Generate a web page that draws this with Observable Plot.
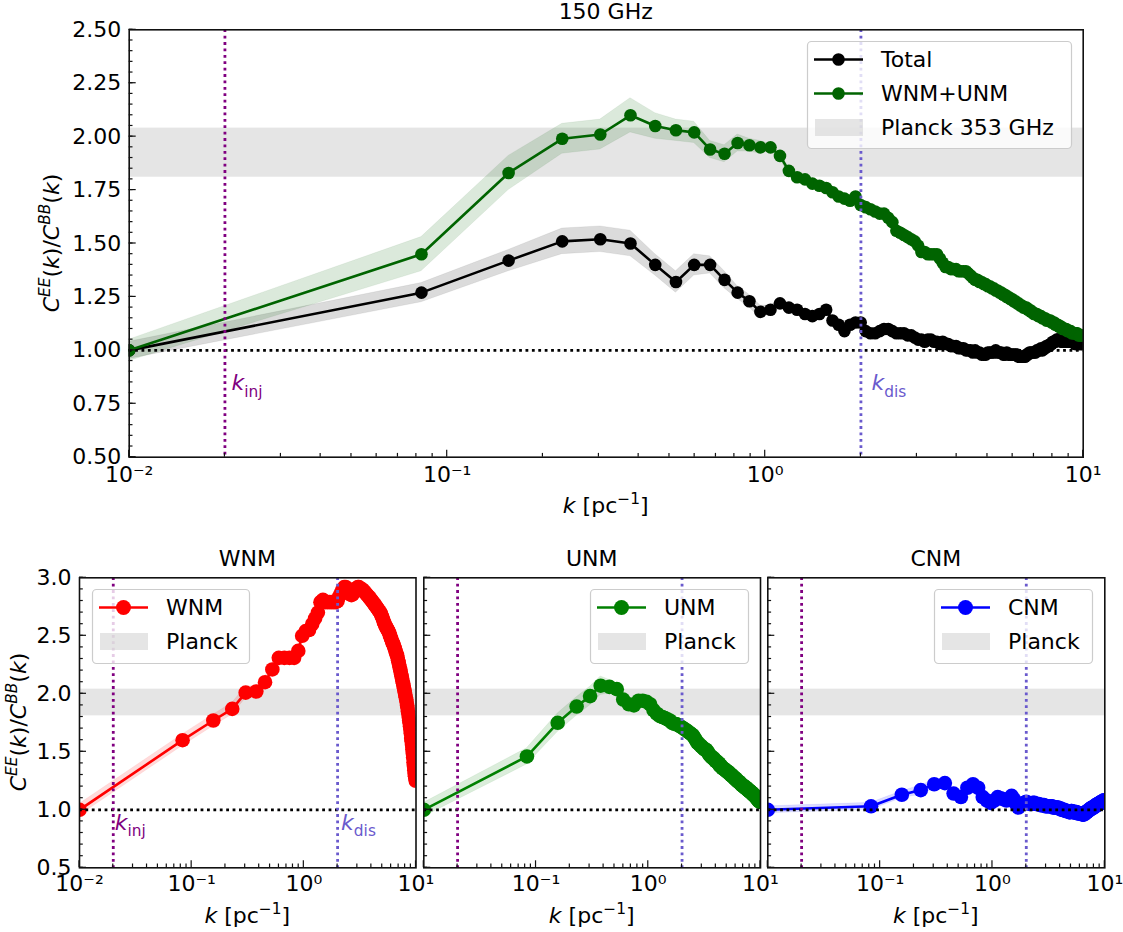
<!DOCTYPE html>
<html><head><meta charset="utf-8">
<script src="https://cdn.jsdelivr.net/npm/d3@7"></script>
<script src="https://cdn.jsdelivr.net/npm/@observablehq/plot@0.6"></script>
<style>
body{margin:0;background:#fff;}
#fig{position:relative;width:1123px;height:932px;overflow:hidden;background:#fff;font-family:"DejaVu Sans",sans-serif;}
#fig svg{position:absolute;}
</style></head>
<body><div id="fig"></div>
<script>
// ---------------- data ----------------
const k = [0.01,
0.083,0.156,0.230,0.303,0.377,0.451,0.524,0.598,0.671,0.745,
0.819,0.892,0.966,1.039,1.113,1.187,1.260,1.334,1.407,1.481,
1.555,1.628,1.702,1.775,1.849,1.923,1.996,2.070,2.143,2.217,
2.291,2.364,2.438,2.511,2.585,2.659,2.732,2.806,2.879,2.953,
3.027,3.100,3.174,3.247,3.321,3.395,3.468,3.542,3.615,3.689,
3.763,3.836,3.910,3.983,4.057,4.131,4.204,4.278,4.351,4.425,
4.499,4.572,4.646,4.719,4.793,4.867,4.940,5.014,5.087,5.161,
5.235,5.308,5.382,5.455,5.529,5.603,5.676,5.750,5.823,5.897,
5.971,6.044,6.118,6.191,6.265,6.339,6.412,6.486,6.559,6.633,
6.707,6.780,6.854,6.927,7.001,7.075,7.148,7.222,7.295,7.369,
7.443,7.516,7.590,7.663,7.737,7.811,7.884,7.958,8.031,8.105,
8.179,8.252,8.326,8.399,8.473,8.547,8.620,8.694,8.767,8.841,
8.915,8.988,9.062,9.135,9.209,9.283,9.356,9.430,9.503,9.577,
9.651,9.724,9.798,9.871,9.945];

const total = [1.00,
1.27,1.42,1.51,1.52,1.50,1.40,1.32,1.40,1.40,1.33,
1.27,1.23,1.18,1.19,1.22,1.20,1.19,1.17,1.16,1.17,
1.19,1.14,1.12,1.09,1.12,1.13,1.13,1.09,1.08,1.08,
1.09,1.10,1.10,1.09,1.08,1.08,1.08,1.07,1.07,1.06,
1.05,1.05,1.04,1.05,1.05,1.04,1.04,1.03,1.04,1.03,
1.03,1.02,1.02,1.02,1.01,1.01,1.01,1.00,1.00,1.00,
0.99,1.00,0.99,0.99,0.98,0.98,0.98,0.99,0.99,0.99,
0.99,1.00,0.99,0.99,0.99,0.98,0.98,0.99,0.98,0.98,
0.98,0.98,0.98,0.98,0.97,0.97,0.97,0.97,0.97,0.98,
0.98,0.99,0.99,0.99,0.99,0.99,1.00,1.00,1.00,1.01,
1.00,1.01,1.01,1.02,1.02,1.02,1.03,1.03,1.04,1.04,
1.04,1.05,1.05,1.05,1.05,1.04,1.04,1.04,1.05,1.05,
1.04,1.04,1.04,1.04,1.04,1.04,1.04,1.03,1.03,1.03,
1.03,1.03,1.03,1.03,1.03];

const wnmUnm = [1.00,
1.45,1.83,1.99,2.01,2.10,2.05,2.03,2.02,1.94,1.92,
1.97,1.96,1.95,1.95,1.91,1.84,1.81,1.80,1.78,1.77,
1.76,1.74,1.72,1.71,1.70,1.72,1.68,1.67,1.66,1.65,
1.64,1.64,1.62,1.60,1.56,1.55,1.54,1.53,1.52,1.51,
1.49,1.46,1.46,1.45,1.45,1.45,1.45,1.43,1.41,1.39,
1.39,1.38,1.38,1.38,1.37,1.37,1.37,1.37,1.36,1.35,
1.34,1.33,1.33,1.32,1.32,1.31,1.31,1.30,1.30,1.29,
1.29,1.28,1.28,1.27,1.27,1.26,1.26,1.25,1.25,1.24,
1.24,1.23,1.23,1.22,1.22,1.21,1.21,1.20,1.20,1.20,
1.19,1.19,1.18,1.18,1.17,1.17,1.17,1.16,1.16,1.16,
1.15,1.15,1.15,1.14,1.14,1.14,1.14,1.13,1.13,1.13,
1.12,1.12,1.12,1.11,1.11,1.11,1.10,1.10,1.10,1.10,
1.09,1.09,1.09,1.09,1.08,1.08,1.08,1.08,1.08,1.08,
1.07,1.07,1.07,1.07,1.07];

const wnm = [1.00,
1.60,1.77,1.87,2.01,2.02,2.10,2.21,2.31,2.31,2.31,
2.31,2.37,2.50,2.54,2.55,2.60,2.65,2.70,2.79,2.81,
2.79,2.79,2.79,2.79,2.79,2.79,2.80,2.84,2.87,2.90,
2.92,2.92,2.91,2.88,2.86,2.85,2.86,2.88,2.90,2.91,
2.92,2.92,2.91,2.90,2.90,2.89,2.88,2.87,2.86,2.85,
2.84,2.83,2.82,2.81,2.80,2.79,2.78,2.77,2.76,2.75,
2.74,2.73,2.72,2.71,2.70,2.69,2.67,2.66,2.64,2.62,
2.61,2.59,2.58,2.57,2.56,2.55,2.54,2.53,2.51,2.50,
2.48,2.47,2.45,2.44,2.43,2.42,2.40,2.39,2.37,2.36,
2.34,2.33,2.31,2.29,2.27,2.25,2.23,2.21,2.19,2.17,
2.15,2.13,2.11,2.09,2.07,2.05,2.03,2.01,1.99,1.97,
1.95,1.93,1.90,1.88,1.85,1.83,1.80,1.77,1.75,1.72,
1.69,1.66,1.62,1.59,1.56,1.52,1.49,1.45,1.41,1.38,
1.34,1.31,1.29,1.27,1.25];

const unm = [1.00,
1.46,1.75,1.89,1.98,2.07,2.06,2.04,1.95,1.91,1.90,
1.94,1.94,1.93,1.91,1.86,1.83,1.81,1.80,1.79,1.78,
1.77,1.75,1.74,1.74,1.73,1.72,1.71,1.70,1.69,1.68,
1.67,1.66,1.65,1.64,1.62,1.60,1.58,1.57,1.56,1.55,
1.54,1.53,1.52,1.52,1.51,1.50,1.48,1.47,1.46,1.45,
1.45,1.44,1.43,1.42,1.42,1.41,1.40,1.40,1.38,1.38,
1.37,1.36,1.36,1.35,1.35,1.34,1.34,1.33,1.33,1.32,
1.32,1.31,1.31,1.30,1.30,1.29,1.29,1.28,1.28,1.27,
1.27,1.26,1.26,1.25,1.25,1.24,1.24,1.24,1.23,1.23,
1.22,1.22,1.21,1.21,1.21,1.20,1.20,1.20,1.19,1.19,
1.19,1.18,1.18,1.18,1.17,1.17,1.17,1.16,1.16,1.16,
1.15,1.15,1.15,1.14,1.14,1.14,1.13,1.13,1.13,1.12,
1.12,1.12,1.11,1.11,1.10,1.10,1.10,1.09,1.09,1.08,
1.08,1.08,1.07,1.07,1.07];

const cnm = [1.00,
1.03,1.13,1.17,1.22,1.23,1.14,1.11,1.19,1.22,1.19,
1.11,1.08,1.06,1.08,1.11,1.10,1.09,1.08,1.09,1.12,
1.09,1.05,1.02,1.04,1.05,1.06,1.07,1.06,1.05,1.05,
1.06,1.06,1.05,1.05,1.05,1.04,1.04,1.04,1.04,1.03,
1.03,1.03,1.03,1.03,1.03,1.03,1.02,1.02,1.02,1.02,
1.02,1.02,1.01,1.01,1.01,1.00,1.00,1.00,1.00,0.99,
0.99,0.99,0.99,0.99,0.98,0.98,0.98,0.99,0.99,0.98,
0.98,0.98,0.98,0.98,0.98,0.98,0.97,0.97,0.97,0.97,
0.97,0.97,0.97,0.97,0.96,0.96,0.96,0.96,0.96,0.97,
0.97,0.98,0.98,0.98,0.99,0.99,0.99,1.00,1.00,1.00,
1.01,1.01,1.01,1.01,1.02,1.02,1.02,1.02,1.03,1.03,
1.03,1.03,1.04,1.04,1.04,1.04,1.05,1.05,1.05,1.05,
1.05,1.06,1.06,1.06,1.06,1.06,1.07,1.07,1.07,1.07,
1.07,1.08,1.08,1.08,1.08];

// half-widths of the shaded uncertainty bands (first points; later points use the tail value)
const errTotal  = [0.04,0.045,0.05,0.06,0.06,0.06,0.05,0.05,0.05,0.04,0.04,0.03,0.03,0.03];
const errWnmUnm = [0.05,0.08,0.08,0.07,0.07,0.08,0.06,0.05,0.05,0.04,0.04,0.04,0.03,0.03];
const errWnm    = [0.05,0.05,0.05,0.05,0.05,0.05,0.05,0.05,0.05,0.04,0.04,0.04,0.04,0.04];
const errUnm    = [0.06,0.07,0.08,0.08,0.08,0.08,0.06,0.05,0.05,0.04,0.04,0.04,0.03,0.03];
const errCnm    = [0.03,0.03,0.03,0.04,0.04,0.04,0.03,0.03,0.03,0.03,0.02,0.02,0.02,0.02];
const errTail = {total: 0.02, wnmUnm: 0.015, wnm: 0.03, unm: 0.02, cnm: 0.015};

const planck = [1.81, 2.04];      // Planck 353 GHz EE/BB band
const kInj = 0.02, kDis = 2;      // injection & dissipation scales
const xDomain = [0.01, 10];
const xMajor = [0.01, 0.1, 1, 10];
const xMajorLabels = ["10⁻²", "10⁻¹", "10⁰", "10¹"];
const yTopMajor = [0.5, 0.75, 1.0, 1.25, 1.5, 1.75, 2.0, 2.25, 2.5];
const yBotMajor = [0.5, 1.0, 1.5, 2.0, 2.5, 3.0];

// ---------------- helpers ----------------
const FONT = "DejaVu Sans";
const DOTS = "2.8,3.6";
const xMinor = [];
for (const dec of [0.01, 0.1, 1]) for (let m = 2; m <= 9; m++) xMinor.push(+(dec * m).toPrecision(3));
const xLabel = new Map(xMajor.map((v, i) => [v, xMajorLabels[i]]));

function rows(vals, errs, tail) {
  return k.map((kk, i) => ({k: kk, v: vals[i], e: i < errs.length ? errs[i] : tail})).filter(d => d.v != null);
}

function rich(sel, parts, base) {
  let shift = 0;
  for (const p of parts) {
    const s = p.sup ? -0.42 * base : p.sub ? 0.28 * base : 0;
    const ts = sel.append("tspan").text(p.t).attr("dy", s - shift);
    shift = s;
    if (p.sup || p.sub) ts.attr("font-size", base * 0.7);
    if (p.it) ts.attr("font-style", "italic");
  }
  return sel;
}

function inTicks(yMajor, yMinor) {
  return (index, scales, values, dim) => {
    const {x, y} = scales;
    const L = dim.marginLeft, B = dim.height - dim.marginBottom;
    const g = d3.create("svg:g").attr("stroke", "#111").attr("stroke-width", 1.2);
    for (const v of xMajor) g.append("line").attr("x1", x(v)).attr("x2", x(v)).attr("y1", B).attr("y2", B - 7);
    for (const v of xMinor) g.append("line").attr("x1", x(v)).attr("x2", x(v)).attr("y1", B).attr("y2", B - 3.8);
    for (const v of yMajor) g.append("line").attr("y1", y(v)).attr("y2", y(v)).attr("x1", L).attr("x2", L + 7);
    for (const v of yMinor) g.append("line").attr("y1", y(v)).attr("y2", y(v)).attr("x1", L).attr("x2", L + 3.8);
    return g.node();
  };
}

function kText(kx, yv, sub, color, dx, size) {
  return (index, {x, y}) => {
    const t = d3.create("svg:text").attr("x", x(kx) + dx).attr("y", y(yv))
      .attr("text-anchor", "start").attr("dominant-baseline", "auto")
      .attr("fill", color).attr("font-size", size).attr("font-family", FONT);
    rich(t, [{t: "k", it: 1}, {t: sub, sub: 1}], size);
    return t.node();
  };
}

function panel(o) {
  const marks = [
    Plot.rect([planck], {x1: () => xDomain[0], x2: () => xDomain[1], y1: d => d[0], y2: d => d[1], fill: "#d3d3d3", fillOpacity: 0.6})
  ];
  for (const s of o.series) {
    marks.push(Plot.areaY(s.data, {x: "k", y1: d => d.v - d.e, y2: d => d.v + d.e, fill: s.color, fillOpacity: 0.14, stroke: s.color, strokeOpacity: 0.06, clip: true}));
  }
  for (const s of o.series) {
    marks.push(Plot.line(s.data, {x: "k", y: "v", stroke: s.color, strokeWidth: 2.6, clip: true}));
    marks.push(Plot.dot(s.data, {x: "k", y: "v", r: o.r, fill: s.color, clip: true}));
  }
  marks.push(
    Plot.ruleY([1], {stroke: "black", strokeWidth: 2.8, strokeDasharray: DOTS}),
    Plot.ruleX([kInj], {stroke: "purple", strokeWidth: 2.8, strokeDasharray: DOTS}),
    Plot.ruleX([kDis], {stroke: "slateblue", strokeWidth: 2.8, strokeDasharray: DOTS}),
    Plot.axisX(o.xTicks, {tickSize: 0, tickPadding: o.xPad, tickFormat: d => xLabel.get(d), label: null}),
    inTicks(o.yMajor, o.yMinor),
    Plot.frame({stroke: "#111", strokeWidth: 1.6})
  );
  if (o.showY) marks.push(Plot.axisY(o.yMajor, {tickSize: 0, tickPadding: 8, tickFormat: d => d.toFixed(o.yDigits), label: null}));
  if (o.kLabels) marks.push(kText(kInj, o.kLabelY, "inj", "purple", o.kdx[0], 22), kText(kDis, o.kLabelY, "dis", "slateblue", o.kdx[1], 22));
  const svg = Plot.plot({
    width: o.w, height: o.h,
    marginLeft: o.ml, marginRight: o.mr, marginTop: o.mt, marginBottom: o.mb,
    style: {background: "transparent", overflow: "visible", fontFamily: FONT, fontSize: "22px", color: "black"},
    x: {type: "log", domain: xDomain},
    y: {domain: o.yDomain, ...(o.showY ? {} : {axis: null})},
    marks
  });
  svg.style.left = o.left + "px";
  svg.style.top = o.top + "px";
  document.getElementById("fig").appendChild(svg);
}

// ---------------- panels ----------------
const yTopMinor = d3.range(0.5, 2.5001, 0.05).map(v => +v.toFixed(2));
const yBotMinor = d3.range(0.5, 3.0001, 0.1).map(v => +v.toFixed(1));

panel({
  left: 0, top: 0, w: 1123, h: 540, ml: 128.7, mr: 40.3, mt: 29.3, mb: 83.3,
  yDomain: [0.5, 2.5], yMajor: yTopMajor, yMinor: yTopMinor, yDigits: 2, showY: true,
  xTicks: xMajor, xPad: 9, r: 6.3,
  series: [
    {color: "black", data: rows(total, errTotal, errTail.total)},
    {color: "darkgreen", data: rows(wnmUnm, errWnmUnm, errTail.wnmUnm)}
  ],
  kLabels: true, kLabelY: 0.81, kdx: [7, 11]
});

const bot = {top: 540, h: 392, mt: 37.3, mb: 64.7, yDomain: [0.5, 3.0], yMajor: yBotMajor, yMinor: yBotMinor, yDigits: 1, xPad: 8, r: 7.3};
panel({...bot, left: 0, w: 420, ml: 79, mr: 4.5, showY: true, xTicks: xMajor,
  series: [{color: "red", data: rows(wnm, errWnm, errTail.wnm)}], kLabels: true, kLabelY: 0.82, kdx: [2, 4]});
panel({...bot, left: 420, w: 344, ml: 3.3, mr: 4, showY: false, xTicks: xMajor.slice(1),
  series: [{color: "green", data: rows(unm, errUnm, errTail.unm)}]});
panel({...bot, left: 764, w: 344, ml: 3.3, mr: 3.7, showY: false, xTicks: xMajor.slice(1),
  series: [{color: "blue", data: rows(cnm, errCnm, errTail.cnm)}]});

// ---------------- titles, axis labels, legends ----------------
const ov = d3.select("#fig").append("svg").attr("width", 1123).attr("height", 932)
  .style("left", "0px").style("top", "0px").attr("font-family", FONT).attr("font-size", 22);

function title(x, y, s) { ov.append("text").attr("x", x).attr("y", y).attr("text-anchor", "middle").text(s); }
title(605.7, 19, "150 GHz");
title(247.3, 566, "WNM");
title(591.7, 566, "UNM");
title(935.8, 566, "CNM");

const xLab = [{t: "k", it: 1}, {t: " [pc"}, {t: "−1", sup: 1}, {t: "]"}];
for (const [x, y] of [[605.7, 513], [247.3, 923], [591.7, 923], [935.8, 923]]) {
  rich(ov.append("text").attr("x", x).attr("y", y).attr("text-anchor", "middle"), xLab, 22);
}
const yLab = [{t: "C", it: 1}, {t: "EE", it: 1, sup: 1}, {t: "("}, {t: "k", it: 1}, {t: ")/"},
              {t: "C", it: 1}, {t: "BB", it: 1, sup: 1}, {t: "("}, {t: "k", it: 1}, {t: ")"}];
for (const [x, y] of [[59, 243], [26, 722]]) {
  rich(ov.append("text").attr("transform", `translate(${x},${y}) rotate(-90)`).attr("text-anchor", "middle"), yLab, 22);
}

function legendBox(x, y, w, h, entries, r) {
  const g = ov.append("g");
  g.append("rect").attr("x", x + 0.5).attr("y", y + 0.5).attr("width", w).attr("height", h).attr("rx", 4)
    .attr("fill", "white").attr("fill-opacity", 0.8).attr("stroke", "#cccccc").attr("stroke-width", 1.2);
  entries.forEach((e, i) => {
    const cy = y + 18.5 + i * 34;
    if (e.band) {
      g.append("rect").attr("x", x + 8).attr("y", cy - 8.5).attr("width", 48).attr("height", 17).attr("fill", "#d3d3d3").attr("fill-opacity", 0.6);
    } else {
      g.append("line").attr("x1", x + 7).attr("x2", x + 56).attr("y1", cy).attr("y2", cy).attr("stroke", e.color).attr("stroke-width", 2.6);
      g.append("circle").attr("cx", x + 31.5).attr("cy", cy).attr("r", r).attr("fill", e.color);
    }
    g.append("text").attr("x", x + 74).attr("y", cy).attr("dy", "0.36em").text(e.label);
  });
}
legendBox(807, 41, 264, 107, [{color: "black", label: "Total"}, {color: "darkgreen", label: "WNM+UNM"}, {band: true, label: "Planck 353 GHz"}], 6.3);
legendBox(92, 589, 157, 74, [{color: "red", label: "WNM"}, {band: true, label: "Planck"}], 7.5);
legendBox(590, 589, 158, 74, [{color: "green", label: "UNM"}, {band: true, label: "Planck"}], 7.5);
legendBox(934, 589, 158, 74, [{color: "blue", label: "CNM"}, {band: true, label: "Planck"}], 7.5);
</script></body></html>
